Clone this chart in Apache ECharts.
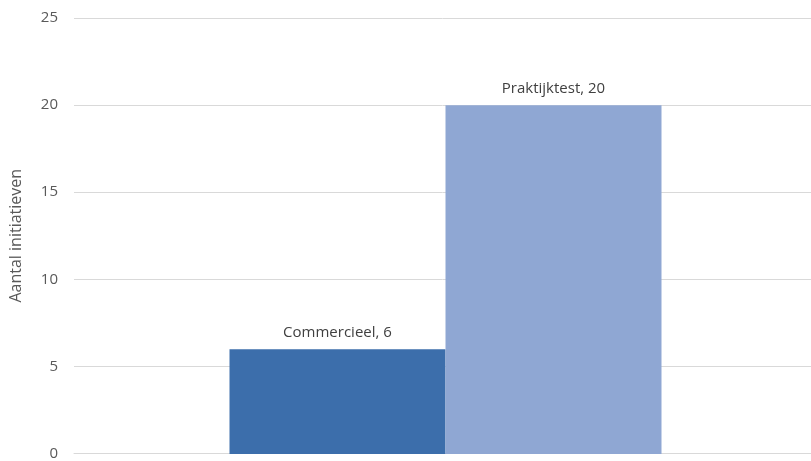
<!DOCTYPE html>
<html>
<head>
<meta charset="utf-8">
<script src="https://cdn.jsdelivr.net/npm/echarts@6/dist/echarts.min.js"></script>
<style>
  html, body { margin: 0; padding: 0; background: #fff; }
  #chart { width: 811px; height: 461px; }
</style>
</head>
<body>
<div id="chart"></div>
<script>
// Number of initiatives per type
const categories = [''];
const seriesNames = ['Commercieel', 'Praktijktest'];
const commercieel = [6];
const praktijktest = [20];
const yTicks = { min: 0, max: 25, interval: 5 };

const colors = ['#3c6eab', '#8fa7d3'];
const font = 'Open Sans, Noto Sans, sans-serif';

const chart = echarts.init(document.getElementById('chart'), null, { renderer: 'canvas' });

const labelStyle = {
  show: true,
  position: 'top',
  distance: 9,
  color: '#404040',
  fontSize: 15,
  fontFamily: font,
  formatter: p => p.seriesName + ', ' + p.value
};

chart.setOption({
  animation: false,
  // grid 0 holds the value axis and gridlines; grid 1 (same vertical extent)
  // places the bar pair slightly right of the plot centre
  grid: [
    { left: 67, right: 0, top: 18, bottom: 7, containLabel: false },
    { left: 80, right: 0, top: 18, bottom: 7, containLabel: false }
  ],
  xAxis: [
    {
      type: 'category',
      gridIndex: 0,
      data: categories,
      axisLine: { show: true, lineStyle: { color: '#d9d9d9', width: 1 } },
      axisTick: { show: false },
      axisLabel: { show: false }
    },
    {
      type: 'category',
      gridIndex: 1,
      data: categories,
      show: false
    }
  ],
  yAxis: [
    {
      type: 'value',
      gridIndex: 0,
      min: yTicks.min,
      max: yTicks.max,
      interval: yTicks.interval,
      name: 'Aantal initiatieven',
      nameLocation: 'middle',
      nameGap: 50,
      nameTextStyle: { color: '#595959', fontSize: 16, fontFamily: font },
      axisLine: { show: false },
      axisTick: { show: false },
      axisLabel: { color: '#595959', fontSize: 15, margin: 16, fontFamily: font },
      splitLine: { lineStyle: { color: '#d9d9d9', width: 1 } }
    },
    {
      type: 'value',
      gridIndex: 1,
      min: yTicks.min,
      max: yTicks.max,
      interval: yTicks.interval,
      show: false,
      splitLine: { show: false }
    }
  ],
  series: [
    {
      name: seriesNames[0],
      type: 'bar',
      xAxisIndex: 1,
      yAxisIndex: 1,
      data: commercieel,
      barWidth: 216,
      barGap: '0%',
      itemStyle: { color: colors[0] },
      label: labelStyle
    },
    {
      name: seriesNames[1],
      type: 'bar',
      xAxisIndex: 1,
      yAxisIndex: 1,
      data: praktijktest,
      barWidth: 216,
      barGap: '0%',
      itemStyle: { color: colors[1] },
      label: labelStyle
    }
  ]
});
</script>
</body>
</html>
